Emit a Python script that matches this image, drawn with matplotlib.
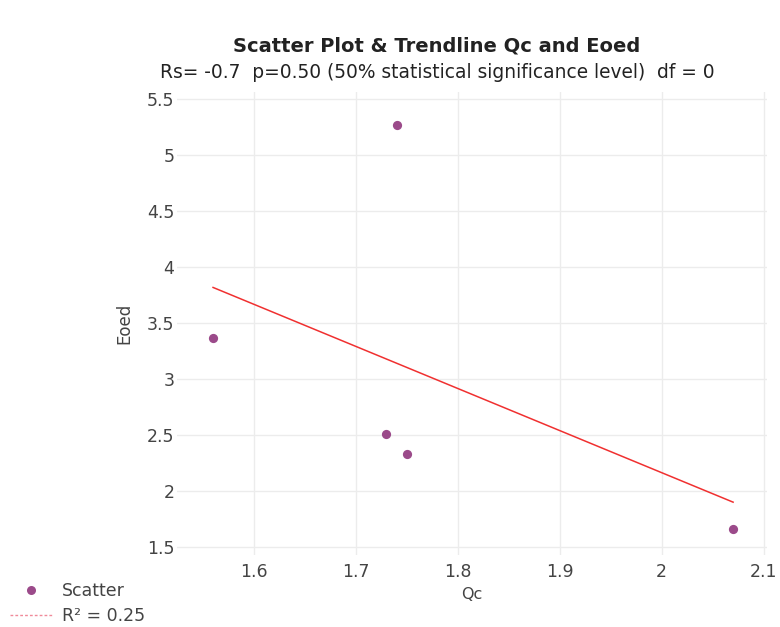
import matplotlib
matplotlib.use("Agg")
import matplotlib.pyplot as plt
from matplotlib.lines import Line2D
import numpy as np

# data
qc = [1.56, 1.74, 1.73, 1.75, 2.07]
eoed = [3.37, 5.27, 2.51, 2.33, 1.66]
x_ticks = [1.6, 1.7, 1.8, 1.9, 2.0, 2.1]
x_tick_labels = ["1.6", "1.7", "1.8", "1.9", "2", "2.1"]
y_ticks = [1.5, 2, 2.5, 3, 3.5, 4, 4.5, 5, 5.5]
y_tick_labels = ["1.5", "2", "2.5", "3", "3.5", "4", "4.5", "5", "5.5"]

POINT_COLOR = "#9b4a8a"
LINE_COLOR = "#f03030"
GRID_COLOR = "#ececec"
TEXT_COLOR = "#444444"

# least squares trendline
slope, intercept = np.polyfit(qc, eoed, 1)
x_line = np.array([min(qc), max(qc)])
y_line = slope * x_line + intercept

fig = plt.figure(figsize=(7.8, 6.27), dpi=100)
ax = fig.add_axes([0.227, 0.115, 0.756, 0.738])

ax.scatter(qc, eoed, s=44, color=POINT_COLOR, zorder=3, linewidths=0)
ax.plot(x_line, y_line, color=LINE_COLOR, linewidth=1.1, zorder=2)

ax.set_xlim(1.5247, 2.103)
ax.set_ylim(1.43, 5.56)
ax.set_xticks(x_ticks)
ax.set_xticklabels(x_tick_labels)
ax.set_yticks(y_ticks)
ax.set_yticklabels(y_tick_labels)
ax.tick_params(length=0, labelsize=12.5, colors=TEXT_COLOR)
ax.tick_params(axis="y", pad=2)
ax.tick_params(axis="x", pad=6)
ax.grid(True, color=GRID_COLOR, linewidth=1)
ax.set_axisbelow(True)
for s in ax.spines.values():
    s.set_visible(False)

ax.set_xlabel("Qc", fontsize=11.5, color=TEXT_COLOR, labelpad=4)
ax.set_ylabel("Eoed", fontsize=12, color=TEXT_COLOR, labelpad=10)

fig.text(0.56, 0.926, "Scatter Plot & Trendline Qc and Eoed", ha="center", va="center",
         fontsize=14, fontweight="bold", color="#222222")
fig.text(0.561, 0.885, "Rs= -0.7  p=0.50 (50% statistical significance level)  df = 0",
         ha="center", va="center", fontsize=13.4, color="#222222")

handles = [
    Line2D([], [], marker="o", linestyle="none", markersize=6.5,
           markerfacecolor=POINT_COLOR, markeredgewidth=0),
    Line2D([], [], color="#f08a9a", linestyle=(0, (2, 1.5)), linewidth=1),
]
fig.legend(handles, ["Scatter", "R² = 0.25"], loc="lower left",
           bbox_to_anchor=(-0.007, -0.022), frameon=False, fontsize=12.5,
           labelcolor=TEXT_COLOR, handlelength=2.4, handletextpad=0.6,
           labelspacing=0.42)

fig.savefig("out.png", dpi=100)
